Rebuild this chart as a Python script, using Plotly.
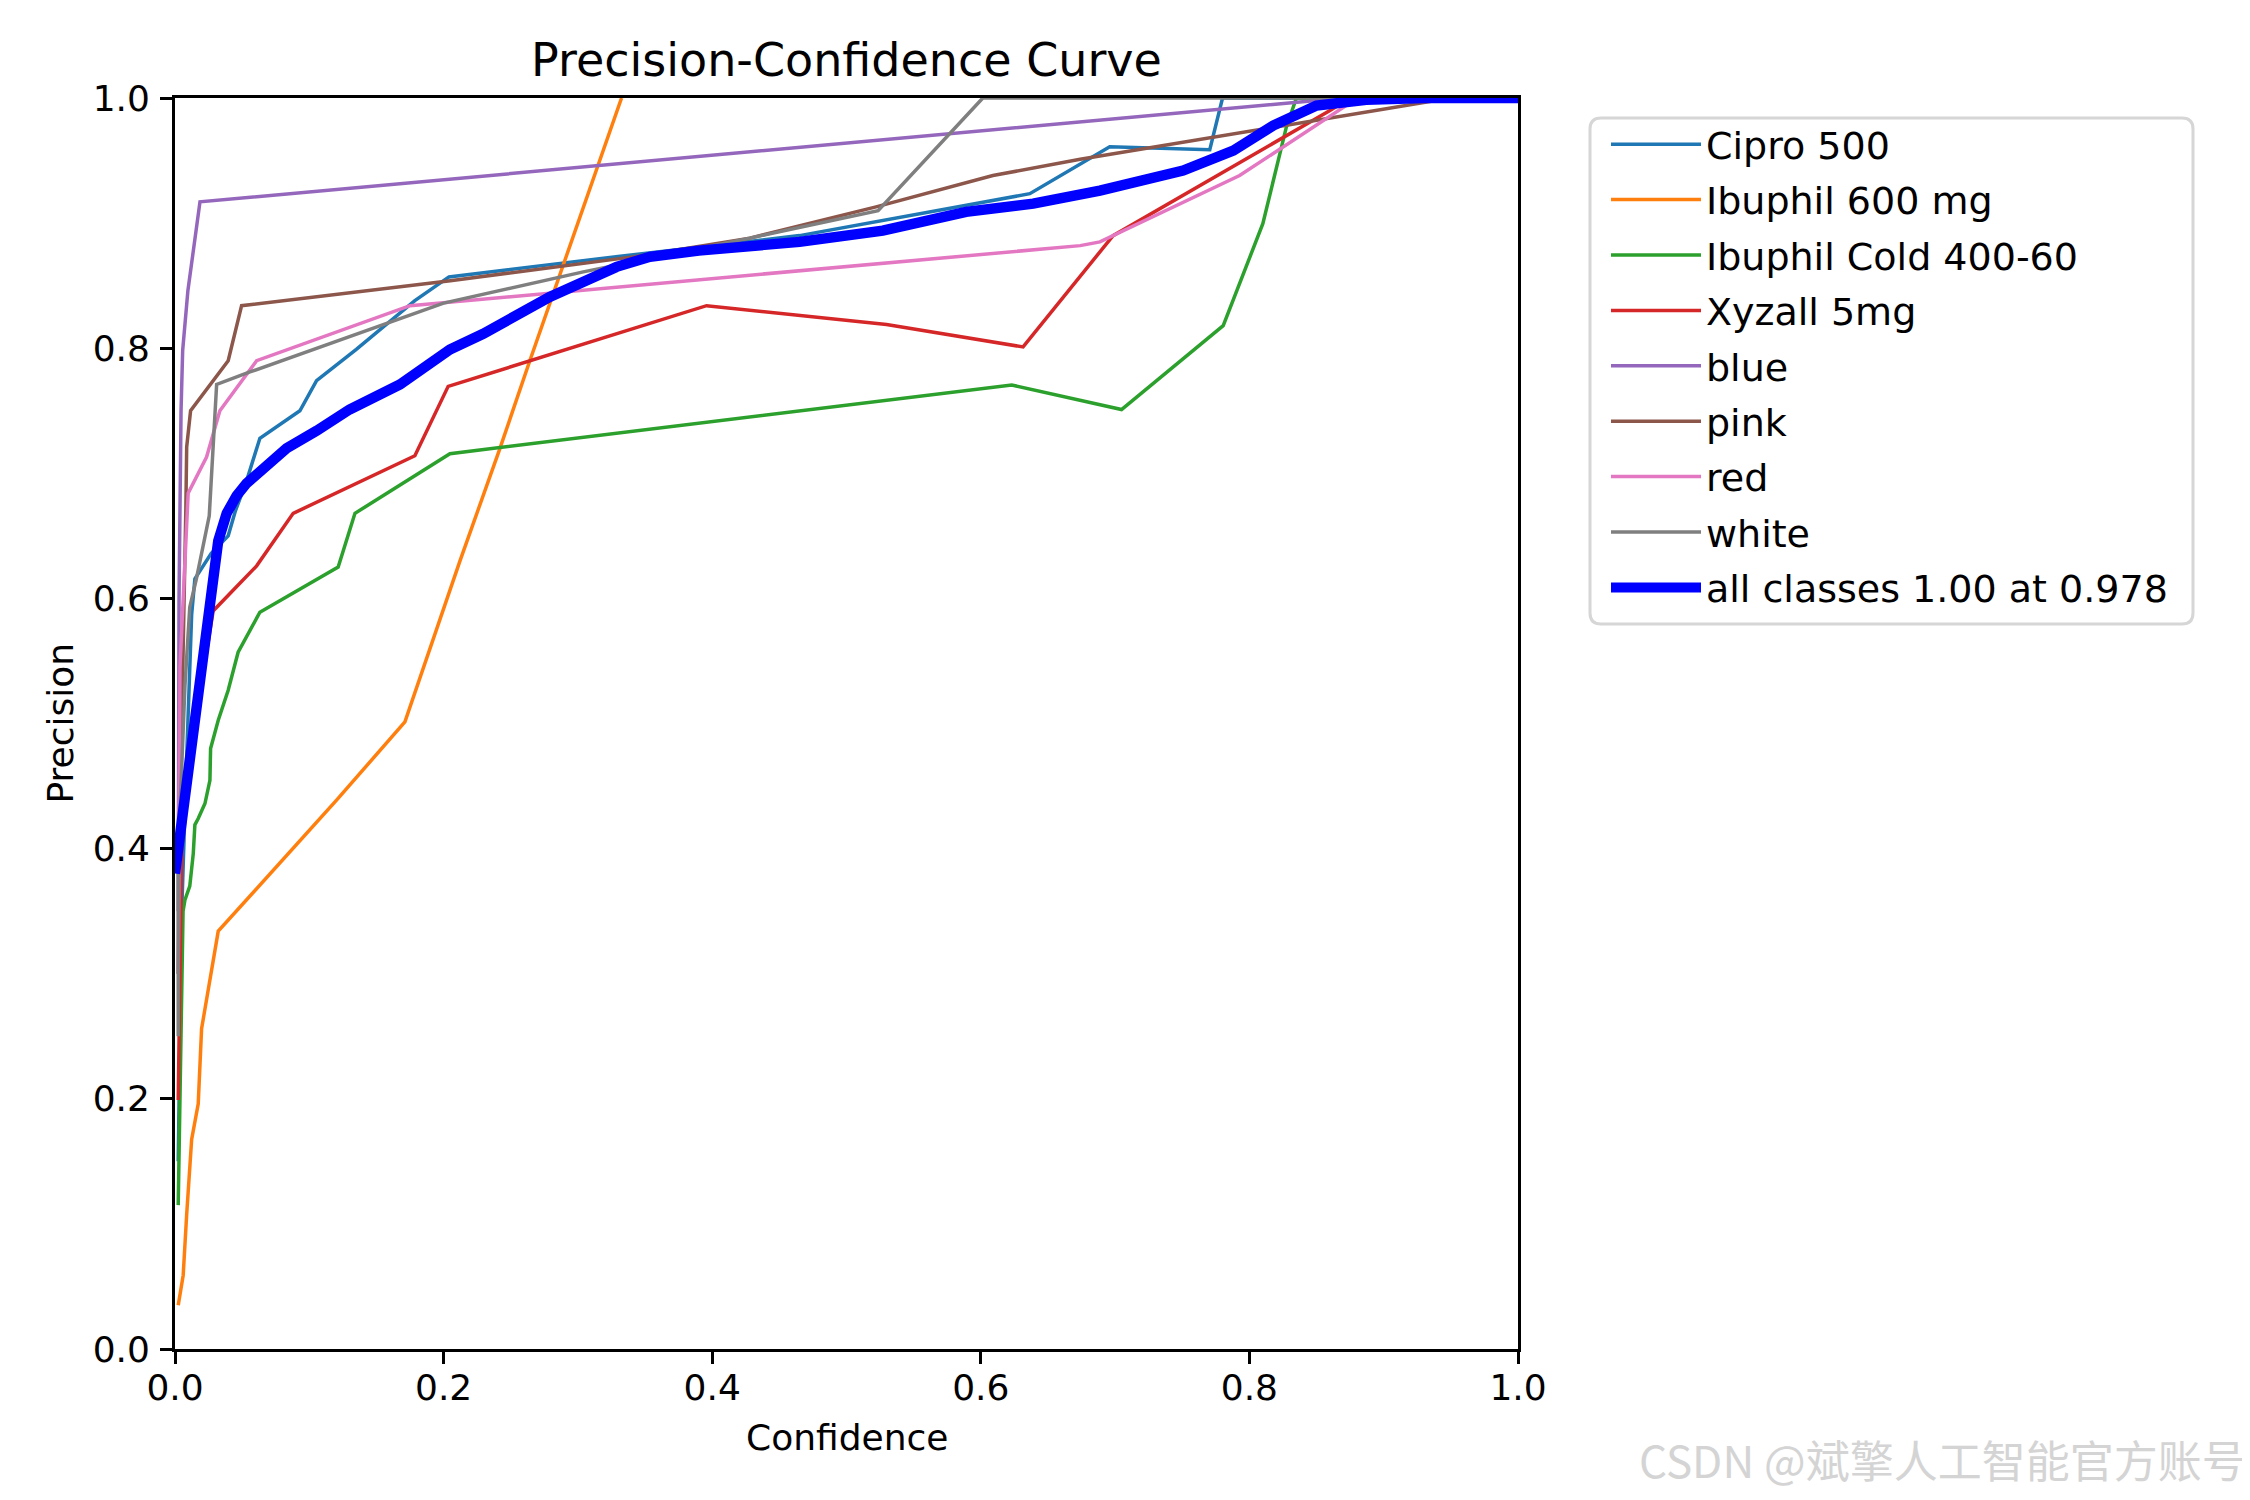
import plotly.graph_objects as go

# ---------------- data ----------------
series_names = ["Cipro 500", "Ibuphil 600 mg", "Ibuphil Cold 400-60", "Xyzall 5mg",
                "blue", "pink", "red", "white"]
series_colors = ["#1f77b4", "#ff7f0e", "#2ca02c", "#d62728",
                 "#9467bd", "#8c564b", "#e377c2", "#7f7f7f"]

cipro_x = [0.0024, 0.005, 0.0087, 0.0124, 0.0148, 0.027, 0.0396, 0.045, 0.0533, 0.0632,
           0.093, 0.1054, 0.135, 0.1786, 0.204, 0.316, 0.465, 0.6365, 0.696, 0.7705, 0.78, 1.0]
cipro_y = [0.15, 0.35, 0.473, 0.587, 0.6156, 0.636, 0.650, 0.67, 0.694, 0.728,
           0.75, 0.774, 0.799, 0.838, 0.857, 0.8716, 0.890, 0.9235, 0.961, 0.9587, 1.0, 1.0]

ibu600_x = [0.0024, 0.0061, 0.0087, 0.0124, 0.0173, 0.0198, 0.0322, 0.1203, 0.1712, 0.2122,
            0.2419, 0.2642, 0.3325]
ibu600_y = [0.035, 0.059, 0.1075, 0.1675, 0.196, 0.256, 0.334, 0.4387, 0.5013, 0.630,
            0.7197, 0.790, 1.0]

ibucold_x = [0.0024, 0.0037, 0.005, 0.006, 0.0074, 0.011, 0.0136, 0.0148, 0.0173, 0.0223,
             0.026, 0.0265, 0.0322, 0.0396, 0.047, 0.0632, 0.1215, 0.134, 0.2047, 0.623,
             0.7048, 0.7805, 0.810, 0.8177, 0.8275, 0.835, 1.0]
ibucold_y = [0.115, 0.199, 0.30, 0.35, 0.359, 0.370, 0.396, 0.419, 0.424, 0.436,
             0.4546, 0.480, 0.5026, 0.5266, 0.557, 0.589, 0.625, 0.668, 0.7157, 0.7706,
             0.751, 0.818, 0.8995, 0.934, 0.9767, 1.0, 1.0]

xyzall_x = [0.0024, 0.004, 0.005, 0.015, 0.0284, 0.0608, 0.088, 0.1786, 0.2034, 0.3958,
            0.5298, 0.6315, 0.674, 0.6985, 0.86, 0.875, 1.0]
xyzall_y = [0.199, 0.30, 0.40, 0.5, 0.59, 0.626, 0.668, 0.714, 0.7695, 0.834,
            0.819, 0.801, 0.857, 0.890, 0.99, 1.0, 1.0]

blue_x = [0.0024, 0.003, 0.0045, 0.0057, 0.0096, 0.0186, 0.87, 1.0]
blue_y = [0.35, 0.6, 0.75, 0.798, 0.846, 0.917, 1.0, 1.0]

pink_x = [0.0024, 0.005, 0.0081, 0.0087, 0.0116, 0.0396, 0.0496, 0.205, 0.341, 0.428,
          0.522, 0.609, 0.674, 0.802, 0.932, 0.95, 1.0]
pink_y = [0.3, 0.5, 0.673, 0.721, 0.750, 0.790, 0.834, 0.854, 0.873, 0.888,
          0.913, 0.938, 0.951, 0.974, 0.9967, 1.0, 1.0]

red_x = [0.0024, 0.0037, 0.0098, 0.0235, 0.0334, 0.0608, 0.175, 0.316, 0.428, 0.674,
         0.6887, 0.7927, 0.872, 0.89, 1.0]
red_y = [0.3, 0.545, 0.684, 0.713, 0.750, 0.790, 0.834, 0.8476, 0.858, 0.882,
         0.885, 0.938, 0.994, 1.0, 1.0]

white_x = [0.0024, 0.0024, 0.0037, 0.0074, 0.011, 0.016, 0.0255, 0.031, 0.0558, 0.2,
           0.304, 0.428, 0.5235, 0.6015, 1.0]
white_y = [0.25, 0.38, 0.43, 0.53, 0.593, 0.616, 0.666, 0.771, 0.781, 0.836,
           0.861, 0.888, 0.910, 1.0, 1.0]

all_name = "all classes 1.00 at 0.978"
all_x = [0.0, 0.0037, 0.0087, 0.016, 0.0223, 0.026, 0.0322, 0.0385, 0.0458, 0.0533,
         0.068, 0.0831, 0.1054, 0.130, 0.1675, 0.19, 0.2047, 0.2295, 0.279, 0.3288,
         0.3536, 0.39, 0.428, 0.465, 0.527, 0.589, 0.639, 0.674, 0.6887, 0.7506,
         0.788, 0.8177, 0.85, 0.887, 0.93, 1.0]
all_y = [0.38, 0.41, 0.455, 0.519, 0.572, 0.604, 0.646, 0.668, 0.682, 0.692,
         0.707, 0.720, 0.734, 0.751, 0.771, 0.787, 0.799, 0.8115, 0.841, 0.865,
         0.873, 0.878, 0.881, 0.885, 0.894, 0.909, 0.9155, 0.922, 0.926, 0.942,
         0.958, 0.978, 0.994, 0.9985, 1.0, 1.0]

tick_vals = [0.0, 0.2, 0.4, 0.6, 0.8, 1.0]

series_x = [cipro_x, ibu600_x, ibucold_x, xyzall_x, blue_x, pink_x, red_x, white_x]
series_y = [cipro_y, ibu600_y, ibucold_y, xyzall_y, blue_y, pink_y, red_y, white_y]

# ---------------- figure ----------------
W, H = 2250, 1500
ML, MR, MT, MB = 167, 740, 90, 159
FONT = "DejaVu Sans"
plot_h = H - MT - MB
plot_w = W - ML - MR


def px(v):
    return (v - ML) / plot_w


def py(v):
    return 1 - (v - MT) / plot_h


fig = go.Figure()
for i, (nm, col) in enumerate(zip(series_names, series_colors)):
    fig.add_trace(go.Scatter(x=series_x[i], y=series_y[i], mode="lines", name=nm,
                             legendgroup=f"g{i}",
                             line=dict(color=col, width=3.5)))
fig.add_trace(go.Scatter(x=all_x, y=all_y, mode="lines", name=all_name,
                         legendgroup="gall",
                         line=dict(color="#0000ff", width=10.4)))

axis_common = dict(range=[0, 1], tickvals=tick_vals, tickformat=".1f",
                   showgrid=False, zeroline=False, showline=True, mirror=True,
                   linecolor="black", linewidth=2.8, ticks="outside", ticklen=12,
                   tickwidth=2.8, tickcolor="black",
                   tickfont=dict(family=FONT, size=36, color="black"))

# rounded legend frame (matplotlib-style fancybox)
bx0, bx1, by0, by1, rr = 1582, 2185, 110, 616, 11
frame_path = (
    f"M{px(bx0 + rr)},{py(by0)} L{px(bx1 - rr)},{py(by0)} "
    f"Q{px(bx1)},{py(by0)} {px(bx1)},{py(by0 + rr)} "
    f"L{px(bx1)},{py(by1 - rr)} Q{px(bx1)},{py(by1)} {px(bx1 - rr)},{py(by1)} "
    f"L{px(bx0 + rr)},{py(by1)} Q{px(bx0)},{py(by1)} {px(bx0)},{py(by1 - rr)} "
    f"L{px(bx0)},{py(by0 + rr)} Q{px(bx0)},{py(by0)} {px(bx0 + rr)},{py(by0)} Z"
)

fig.update_layout(
    width=W, height=H,
    margin=dict(l=ML, r=MR, t=MT, b=MB, autoexpand=False),
    paper_bgcolor="white", plot_bgcolor="white",
    font=dict(family=FONT, color="black"),
    title=dict(text="Precision-Confidence Curve", x=0.5, xref="paper",
               y=1 - 52 / H, yref="container", xanchor="center", yanchor="middle",
               font=dict(family=FONT, size=46, color="black")),
    xaxis=dict(axis_common, ticklabelstandoff=-7),
    yaxis=dict(axis_common, ticklabelstandoff=3),
    showlegend=True,
    legend=dict(x=px(1598), y=py(105),
                xanchor="left", yanchor="top",
                bgcolor="rgba(0,0,0,0)", borderwidth=0,
                font=dict(family=FONT, size=38, color="black"),
                itemwidth=90, tracegroupgap=3),
    shapes=[dict(type="path", xref="paper", yref="paper", path=frame_path,
                 line=dict(color="#d6d6d6", width=3), fillcolor="white",
                 layer="above")],
)

fig.add_annotation(text="Confidence", xref="paper", yref="paper", x=0.5,
                   y=py(1429), xanchor="center", yanchor="middle",
                   showarrow=False, font=dict(family=FONT, size=36, color="black"))
fig.add_annotation(text="Precision", xref="paper", yref="paper", x=px(52),
                   y=0.5, xanchor="center", yanchor="middle", textangle=-90,
                   showarrow=False, font=dict(family=FONT, size=36, color="black"))
fig.add_annotation(text="CSDN @斌擎人工智能官方账号", xref="paper", yref="paper",
                   x=px(2240), y=py(1451),
                   xanchor="right", yanchor="middle", showarrow=False,
                   font=dict(family="Noto Sans CJK SC", size=44, color="#d4d4d4"))

fig.write_html("out.html")
